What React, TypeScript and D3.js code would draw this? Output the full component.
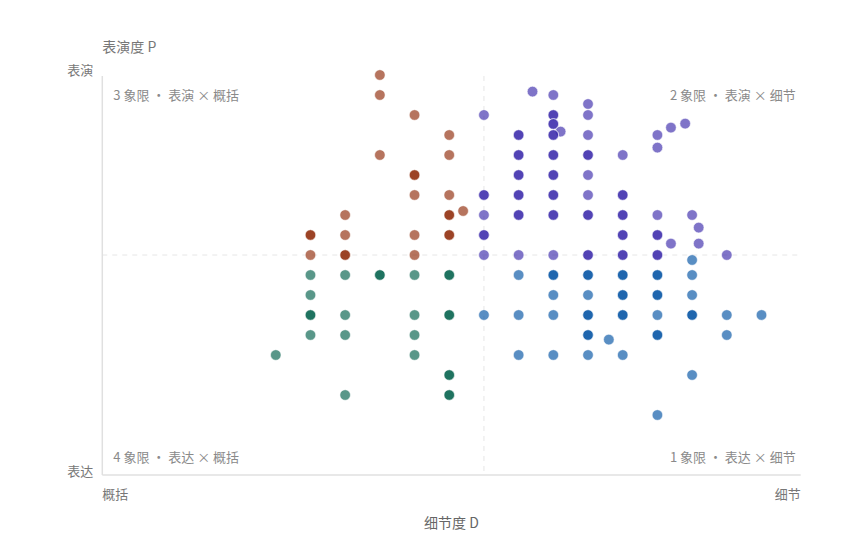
import React from "react";
import * as d3 from "d3";

// D = 细节度 (detail), P = 表演度 (performance). Repeated entries overlap (darker dots).
const q3Points: [number, number][] = [
  [-3, 9], [-3, 8], [-2, 7], [-1, 6], [-3, 5], [-1, 5], [-2, 4], [-2, 4],
  [-2, 3], [-1, 3], [-4, 2], [-1, 2], [-1, 2], [-0.6, 2.2],
  [-5, 1], [-5, 1], [-4, 1], [-2, 1], [-1, 1], [-1, 1],
  [-5, 0], [-4, 0], [-4, 0], [-2, 0],
];
const q2Points: [number, number][] = [
  [0, 7], [1.4, 8.17], [2, 8], [3, 7.55], [3, 7], [2, 7], [2, 7],
  [2, 6.55], [2, 6.55], [2.21, 6.17], [1, 6], [1, 6], [2, 6], [2, 6], [3, 6],
  [5, 6], [5.39, 6.37], [5.8, 6.57], [5, 5.37],
  [1, 5], [1, 5], [2, 5], [2, 5], [3, 5], [3, 5], [4, 5],
  [1, 4], [1, 4], [2, 4], [2, 4], [3, 4],
  [0, 3], [0, 3], [1, 3], [1, 3], [2, 3], [2, 3], [3, 3], [4, 3], [4, 3],
  [0, 2], [1, 2], [1, 2], [2, 2], [2, 2], [3, 2], [3, 2], [4, 2], [4, 2], [5, 2], [6, 2],
  [6.19, 1.37], [0, 1], [0, 1], [4, 1], [4, 1], [5, 1], [5, 1],
  [5.39, 0.57], [6.19, 0.57],
  [0, 0], [1, 0], [2, 0], [3, 0], [3, 0], [4, 0], [4, 0], [5, 0], [5, 0], [7, 0],
];
const q4Points: [number, number][] = [
  [-5, -1], [-4, -1], [-3, -1], [-3, -1], [-2, -1], [-1, -1], [-1, -1],
  [-5, -2],
  [-5, -3], [-5, -3], [-4, -3], [-2, -3], [-1, -3], [-1, -3],
  [-5, -4], [-4, -4], [-2, -4],
  [-6, -5], [-2, -5],
  [-1, -6], [-1, -6],
  [-4, -7], [-1, -7], [-1, -7],
];
const q1Points: [number, number][] = [
  [6, -0.25],
  [1, -1], [2, -1], [2, -1], [3, -1], [3, -1], [4, -1], [4, -1], [5, -1], [5, -1], [6, -1],
  [2, -2], [3, -2], [4, -2], [4, -2], [5, -2], [5, -2], [6, -2],
  [0, -3], [1, -3], [2, -3], [3, -3], [3, -3], [4, -3], [4, -3], [5, -3], [6, -3], [6, -3], [7, -3], [8, -3],
  [3, -4], [3, -4], [3.6, -4.23], [5, -4], [5, -4], [7, -4],
  [1, -5], [2, -5], [3, -5], [4, -5],
  [6, -6],
  [5, -8],
];

const quadrantLabels = ["1 象限 · 表达 × 细节", "2 象限 · 表演 × 细节", "3 象限 · 表演 × 概括", "4 象限 · 表达 × 概括"];
const xDomain: [number, number] = [-11, 9.13];
const yDomain: [number, number] = [-11, 9];
const xEnds = ["概括", "细节"];
const yEnds = ["表达", "表演"];
const xTitle = "细节度 D";
const yTitle = "表演度 P";

const colors = {
  q1: "#0052a3",
  q2: "#3a2aaa",
  q3: "#8f2a08",
  q4: "#00604a",
};

const FONT = '"Noto Sans CJK SC", "Noto Sans", sans-serif';

export default function App() {
  const W = 863, H = 560;
  const left = 102.3, right = 800.7, top = 76, bottom = 475;
  const x = d3.scaleLinear().domain(xDomain).range([left, left + (right - left)]);
  const y = d3.scaleLinear().domain(yDomain).range([bottom, bottom - 20 * (yDomain[1] - yDomain[0])]);
  const x0 = x(0), y0 = y(0);

  const all = [
    ...q3Points.map((p) => ({ p, c: colors.q3 })),
    ...q2Points.map((p) => ({ p, c: colors.q2 })),
    ...q4Points.map((p) => ({ p, c: colors.q4 })),
    ...q1Points.map((p) => ({ p, c: colors.q1 })),
  ];

  const labelColor = "#8a8a8a";

  return (
    <svg width={W} height={H} style={{ position: "absolute", left: 0, top: 0, fontFamily: FONT }}>
      <rect width={W} height={H} fill="#fff" />
      {/* center dashed lines */}
      <line x1={left} x2={right} y1={y0} y2={y0} stroke="#e6e6e6" strokeDasharray="5,5" />
      <line x1={x0} x2={x0} y1={top} y2={bottom} stroke="#e6e6e6" strokeDasharray="5,5" />
      {/* axes */}
      <line x1={left} x2={left} y1={top} y2={bottom} stroke="#e0e0e0" strokeWidth={1.5} />
      <line x1={left} x2={right} y1={bottom} y2={bottom} stroke="#e0e0e0" strokeWidth={1.5} />

      {/* quadrant labels */}
      <text x={right - 5} y={bottom - 13} textAnchor="end" fontSize={13} fill={labelColor}>{quadrantLabels[0]}</text>
      <text x={right - 5} y={top + 24} textAnchor="end" fontSize={13} fill={labelColor}>{quadrantLabels[1]}</text>
      <text x={left + 11} y={top + 24} fontSize={13} fill={labelColor}>{quadrantLabels[2]}</text>
      <text x={left + 11} y={bottom - 13} fontSize={13} fill={labelColor}>{quadrantLabels[3]}</text>

      {/* axis end labels */}
      <text x={left - 9} y={75} textAnchor="end" fontSize={13} fill="#777">{yEnds[1]}</text>
      <text x={left - 9} y={476} textAnchor="end" fontSize={13} fill="#777">{yEnds[0]}</text>
      <text x={left} y={499} fontSize={13} fill="#777">{xEnds[0]}</text>
      <text x={right} y={499} textAnchor="end" fontSize={13} fill="#777">{xEnds[1]}</text>

      {/* titles */}
      <text x={left} y={52} fontSize={14} fill="#777">{yTitle}</text>
      <text x={(left + right) / 2} y={528} textAnchor="middle" fontSize={14} fill="#666">{xTitle}</text>

      {/* points */}
      <g>
        {all.map((d, i) => (
          <circle
            key={i}
            cx={x(d.p[0])}
            cy={y(d.p[1])}
            r={5.3}
            fill={d.c}
            fillOpacity={0.65}
            stroke="#fff"
            strokeOpacity={0.7}
            strokeWidth={0.8}
          />
        ))}
      </g>
    </svg>
  );
}
